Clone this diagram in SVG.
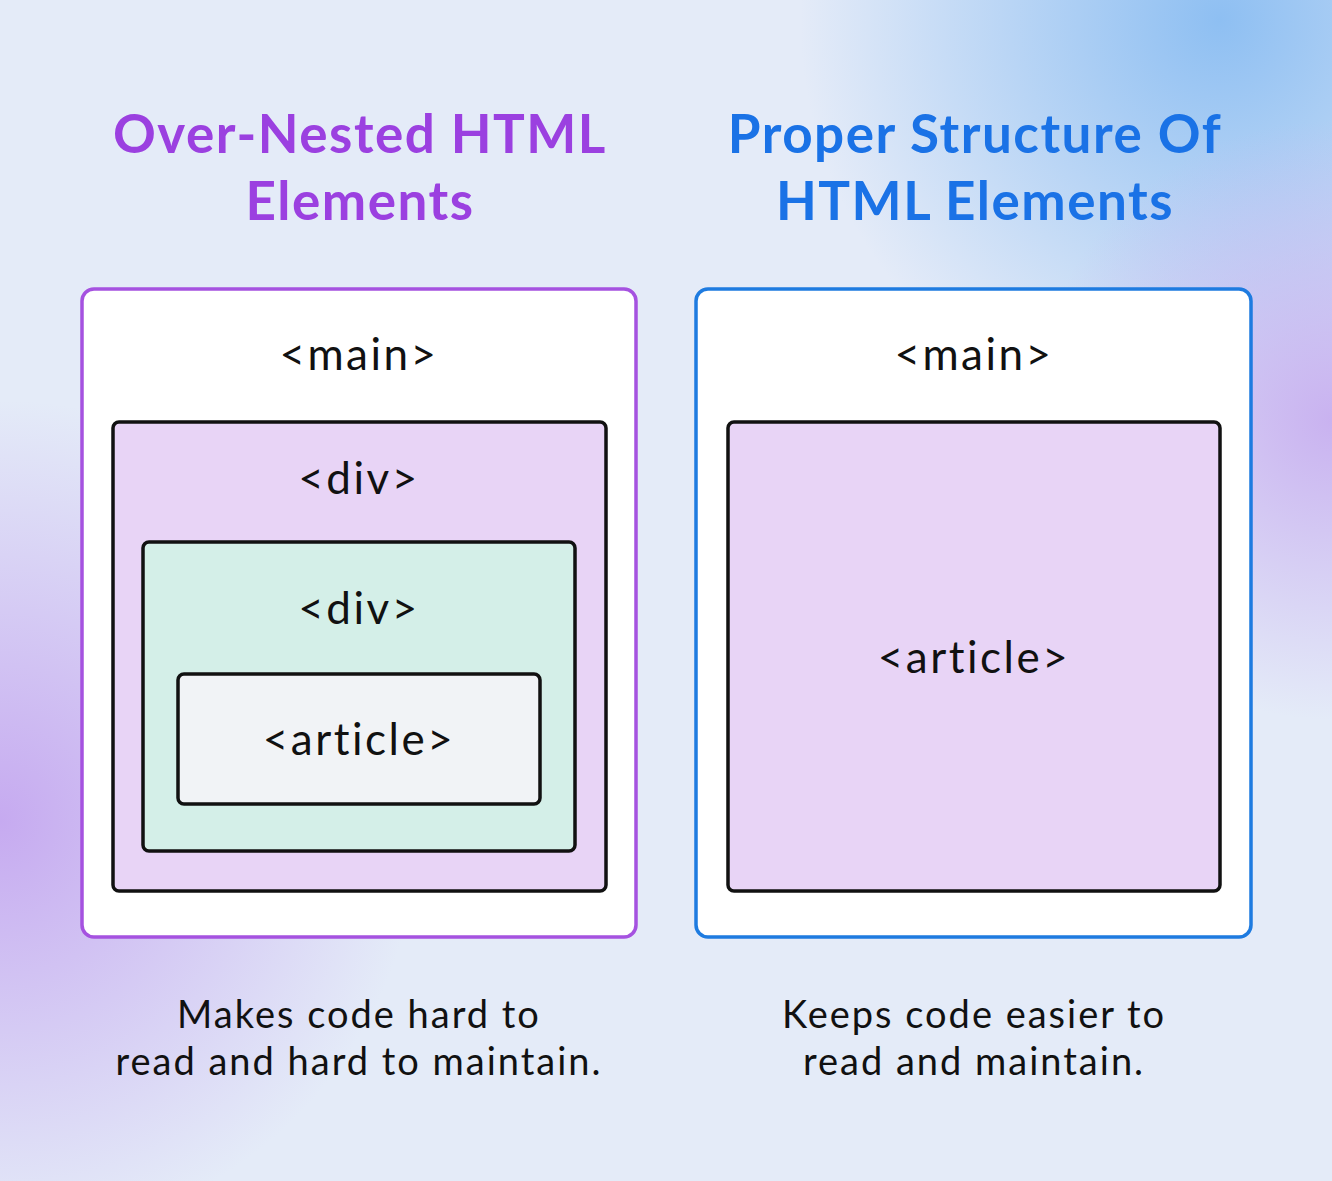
<svg xmlns="http://www.w3.org/2000/svg" width="1332" height="1181" viewBox="0 0 1332 1181">
<style>
.t{font-family:"Lato","Liberation Sans",sans-serif;font-weight:700;font-size:53px;text-anchor:middle;letter-spacing:1.5px}
.l{font-family:"Lato","Liberation Sans",sans-serif;font-size:44px;text-anchor:middle;fill:#111;letter-spacing:2.5px}
.c{font-family:"Lato","Liberation Sans",sans-serif;font-size:38px;text-anchor:middle;fill:#111;letter-spacing:2px}
.in{stroke:#111;stroke-width:3.5}
</style>
<defs>
<radialGradient id="g1" cx="1220" cy="20" r="420" gradientUnits="userSpaceOnUse"><stop offset="0" stop-color="#8ebff2"/><stop offset="1" stop-color="#8ebff2" stop-opacity="0"/></radialGradient>
<radialGradient id="g2" cx="0" cy="820" r="420" gradientUnits="userSpaceOnUse"><stop offset="0" stop-color="#c6aaf0"/><stop offset="1" stop-color="#c6aaf0" stop-opacity="0"/></radialGradient>
<radialGradient id="g3" cx="1332" cy="420" r="300" gradientUnits="userSpaceOnUse"><stop offset="0" stop-color="#c9b2f0"/><stop offset="1" stop-color="#c9b2f0" stop-opacity="0"/></radialGradient>
</defs>
<rect width="1332" height="1181" fill="#e4ebf8"/>
<rect width="1332" height="1181" fill="url(#g1)"/>
<rect width="1332" height="1181" fill="url(#g2)"/>
<rect width="1332" height="1181" fill="url(#g3)"/>
<g id="title-left"><text class="t" x="360" y="153" fill="#9b40e0">Over-Nested HTML</text><text class="t" x="360" y="220" fill="#9b40e0">Elements</text></g>
<g id="title-right"><text class="t" x="975" y="153" fill="#1a72e6">Proper Structure Of</text><text class="t" x="975" y="220" fill="#1a72e6">HTML Elements</text></g>
<g id="left-main"><rect x="82" y="289" width="554" height="648" rx="12" fill="#fff" stroke="#a552e0" stroke-width="3.5"/><text class="l" x="359" y="370">&lt;main&gt;</text></g>
<g id="left-div1"><rect class="in" x="113" y="422" width="493" height="469" rx="6" fill="#e8d4f6"/><text class="l" x="359" y="494">&lt;div&gt;</text></g>
<g id="left-div2"><rect class="in" x="143" y="542" width="432" height="309" rx="6" fill="#d4efe8"/><text class="l" x="359" y="624">&lt;div&gt;</text></g>
<g id="left-article"><rect class="in" x="178" y="674" width="362" height="130" rx="6" fill="#f1f3f6"/><text class="l" x="359" y="755">&lt;article&gt;</text></g>
<g id="right-main"><rect x="696" y="289" width="555" height="648" rx="12" fill="#fff" stroke="#1e7be0" stroke-width="3.5"/><text class="l" x="974" y="370">&lt;main&gt;</text></g>
<g id="right-article"><rect class="in" x="728" y="422" width="492" height="469" rx="6" fill="#e8d4f6"/><text class="l" x="974" y="673">&lt;article&gt;</text></g>
<g id="caption-left"><text class="c" x="359" y="1028">Makes code hard to</text><text class="c" x="359" y="1075">read and hard to maintain.</text></g>
<g id="caption-right"><text class="c" x="974" y="1028">Keeps code easier to</text><text class="c" x="974" y="1075">read and maintain.</text></g>
<g id="connectors"/>
</svg>
